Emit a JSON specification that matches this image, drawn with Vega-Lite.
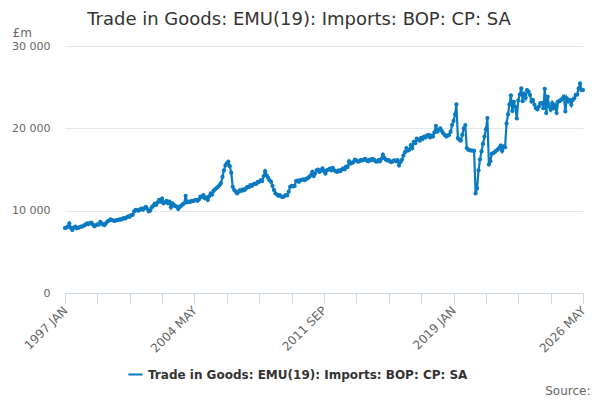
{
"$schema":"https://vega.github.io/schema/vega-lite/v6.json",
"width":518,"height":247,
"autosize":{"type":"none"},
"padding":{"left":65,"top":46,"right":17,"bottom":107},
"background":"#ffffff",
"title":{"text":"Trade in Goods: EMU(19): Imports: BOP: CP: SA","anchor":"middle","dx":-25,"offset":-3,"font":"DejaVu Sans","fontSize":18,"fontWeight":"normal","color":"#333333"},
"config":{"view":{"stroke":null},"font":"DejaVu Sans"},
"data":{"values":[
{"d":"1997-01-01","v":7900},{"d":"1997-02-01","v":7950},{"d":"1997-03-01","v":8050},{"d":"1997-04-01","v":8450},{"d":"1997-05-01","v":7900},{"d":"1997-06-01","v":7650},{"d":"1997-07-01","v":7950},{"d":"1997-08-01","v":8050},{"d":"1997-09-01","v":7850},{"d":"1997-10-01","v":7900},{"d":"1997-11-01","v":8000},{"d":"1997-12-01","v":8050},
{"d":"1998-01-01","v":8100},{"d":"1998-02-01","v":8200},{"d":"1998-03-01","v":8300},{"d":"1998-04-01","v":8450},{"d":"1998-05-01","v":8350},{"d":"1998-06-01","v":8500},{"d":"1998-07-01","v":8550},{"d":"1998-08-01","v":8300},{"d":"1998-09-01","v":8100},{"d":"1998-10-01","v":8200},{"d":"1998-11-01","v":8350},{"d":"1998-12-01","v":8300},
{"d":"1999-01-01","v":8650},{"d":"1999-02-01","v":8450},{"d":"1999-03-01","v":8300},{"d":"1999-04-01","v":8250},{"d":"1999-05-01","v":8500},{"d":"1999-06-01","v":8700},{"d":"1999-07-01","v":8800},{"d":"1999-08-01","v":8950},{"d":"1999-09-01","v":8850},{"d":"1999-10-01","v":8800},{"d":"1999-11-01","v":8750},{"d":"1999-12-01","v":8850},
{"d":"2000-01-01","v":8850},{"d":"2000-02-01","v":8950},{"d":"2000-03-01","v":8900},{"d":"2000-04-01","v":9000},{"d":"2000-05-01","v":9100},{"d":"2000-06-01","v":9050},{"d":"2000-07-01","v":9200},{"d":"2000-08-01","v":9300},{"d":"2000-09-01","v":9250},{"d":"2000-10-01","v":9450},{"d":"2000-11-01","v":9500},{"d":"2000-12-01","v":9900},
{"d":"2001-01-01","v":10100},{"d":"2001-02-01","v":10050},{"d":"2001-03-01","v":10000},{"d":"2001-04-01","v":10150},{"d":"2001-05-01","v":10250},{"d":"2001-06-01","v":10100},{"d":"2001-07-01","v":10300},{"d":"2001-08-01","v":10450},{"d":"2001-09-01","v":10200},{"d":"2001-10-01","v":9900},{"d":"2001-11-01","v":10050},{"d":"2001-12-01","v":10400},
{"d":"2002-01-01","v":10600},{"d":"2002-02-01","v":10850},{"d":"2002-03-01","v":10700},{"d":"2002-04-01","v":11000},{"d":"2002-05-01","v":11300},{"d":"2002-06-01","v":11100},{"d":"2002-07-01","v":11450},{"d":"2002-08-01","v":10900},{"d":"2002-09-01","v":11000},{"d":"2002-10-01","v":11200},{"d":"2002-11-01","v":10900},{"d":"2002-12-01","v":11100},
{"d":"2003-01-01","v":10400},{"d":"2003-02-01","v":10900},{"d":"2003-03-01","v":10700},{"d":"2003-04-01","v":10550},{"d":"2003-05-01","v":10500},{"d":"2003-06-01","v":10200},{"d":"2003-07-01","v":10450},{"d":"2003-08-01","v":10600},{"d":"2003-09-01","v":10750},{"d":"2003-10-01","v":10900},{"d":"2003-11-01","v":11800},{"d":"2003-12-01","v":11000},
{"d":"2004-01-01","v":11100},{"d":"2004-02-01","v":11050},{"d":"2004-03-01","v":11200},{"d":"2004-04-01","v":11150},{"d":"2004-05-01","v":11250},{"d":"2004-06-01","v":11300},{"d":"2004-07-01","v":11200},{"d":"2004-08-01","v":11350},{"d":"2004-09-01","v":11700},{"d":"2004-10-01","v":11650},{"d":"2004-11-01","v":11900},{"d":"2004-12-01","v":11500},
{"d":"2005-01-01","v":11600},{"d":"2005-02-01","v":11300},{"d":"2005-03-01","v":11750},{"d":"2005-04-01","v":12100},{"d":"2005-05-01","v":11950},{"d":"2005-06-01","v":12400},{"d":"2005-07-01","v":12600},{"d":"2005-08-01","v":12750},{"d":"2005-09-01","v":12900},{"d":"2005-10-01","v":13100},{"d":"2005-11-01","v":13350},{"d":"2005-12-01","v":14100},
{"d":"2006-01-01","v":14900},{"d":"2006-02-01","v":15500},{"d":"2006-03-01","v":15750},{"d":"2006-04-01","v":15950},{"d":"2006-05-01","v":15400},{"d":"2006-06-01","v":14600},{"d":"2006-07-01","v":12900},{"d":"2006-08-01","v":12500},{"d":"2006-09-01","v":12300},{"d":"2006-10-01","v":12100},{"d":"2006-11-01","v":12300},{"d":"2006-12-01","v":12500},
{"d":"2007-01-01","v":12400},{"d":"2007-02-01","v":12600},{"d":"2007-03-01","v":12500},{"d":"2007-04-01","v":12700},{"d":"2007-05-01","v":12900},{"d":"2007-06-01","v":12850},{"d":"2007-07-01","v":13100},{"d":"2007-08-01","v":13000},{"d":"2007-09-01","v":13200},{"d":"2007-10-01","v":13300},{"d":"2007-11-01","v":13250},{"d":"2007-12-01","v":13500},
{"d":"2008-01-01","v":13500},{"d":"2008-02-01","v":13700},{"d":"2008-03-01","v":13600},{"d":"2008-04-01","v":14200},{"d":"2008-05-01","v":14800},{"d":"2008-06-01","v":14300},{"d":"2008-07-01","v":14000},{"d":"2008-08-01","v":13700},{"d":"2008-09-01","v":13500},{"d":"2008-10-01","v":13000},{"d":"2008-11-01","v":12500},{"d":"2008-12-01","v":12100},
{"d":"2009-01-01","v":11950},{"d":"2009-02-01","v":11800},{"d":"2009-03-01","v":11900},{"d":"2009-04-01","v":11700},{"d":"2009-05-01","v":11650},{"d":"2009-06-01","v":11750},{"d":"2009-07-01","v":11900},{"d":"2009-08-01","v":11850},{"d":"2009-09-01","v":12300},{"d":"2009-10-01","v":12900},{"d":"2009-11-01","v":13000},{"d":"2009-12-01","v":12950},
{"d":"2010-01-01","v":13000},{"d":"2010-02-01","v":13600},{"d":"2010-03-01","v":13650},{"d":"2010-04-01","v":13500},{"d":"2010-05-01","v":13700},{"d":"2010-06-01","v":13750},{"d":"2010-07-01","v":13800},{"d":"2010-08-01","v":13700},{"d":"2010-09-01","v":13850},{"d":"2010-10-01","v":13950},{"d":"2010-11-01","v":14100},{"d":"2010-12-01","v":14300},
{"d":"2011-01-01","v":14700},{"d":"2011-02-01","v":14200},{"d":"2011-03-01","v":14500},{"d":"2011-04-01","v":14900},{"d":"2011-05-01","v":15000},{"d":"2011-06-01","v":14700},{"d":"2011-07-01","v":14900},{"d":"2011-08-01","v":15150},{"d":"2011-09-01","v":14800},{"d":"2011-10-01","v":14500},{"d":"2011-11-01","v":14900},{"d":"2011-12-01","v":15000},
{"d":"2012-01-01","v":15100},{"d":"2012-02-01","v":14900},{"d":"2012-03-01","v":15200},{"d":"2012-04-01","v":14900},{"d":"2012-05-01","v":14800},{"d":"2012-06-01","v":14700},{"d":"2012-07-01","v":14900},{"d":"2012-08-01","v":14800},{"d":"2012-09-01","v":15000},{"d":"2012-10-01","v":15150},{"d":"2012-11-01","v":15000},{"d":"2012-12-01","v":15350},
{"d":"2013-01-01","v":15300},{"d":"2013-02-01","v":16000},{"d":"2013-03-01","v":15700},{"d":"2013-04-01","v":15800},{"d":"2013-05-01","v":15900},{"d":"2013-06-01","v":16200},{"d":"2013-07-01","v":16100},{"d":"2013-08-01","v":15950},{"d":"2013-09-01","v":16000},{"d":"2013-10-01","v":16150},{"d":"2013-11-01","v":16100},{"d":"2013-12-01","v":16200},
{"d":"2014-01-01","v":16300},{"d":"2014-02-01","v":16100},{"d":"2014-03-01","v":16000},{"d":"2014-04-01","v":16200},{"d":"2014-05-01","v":16100},{"d":"2014-06-01","v":16300},{"d":"2014-07-01","v":16200},{"d":"2014-08-01","v":16000},{"d":"2014-09-01","v":15950},{"d":"2014-10-01","v":16150},{"d":"2014-11-01","v":16000},{"d":"2014-12-01","v":16300},
{"d":"2015-01-01","v":16800},{"d":"2015-02-01","v":16400},{"d":"2015-03-01","v":16200},{"d":"2015-04-01","v":16100},{"d":"2015-05-01","v":16150},{"d":"2015-06-01","v":15950},{"d":"2015-07-01","v":15900},{"d":"2015-08-01","v":16050},{"d":"2015-09-01","v":16100},{"d":"2015-10-01","v":16000},{"d":"2015-11-01","v":16150},{"d":"2015-12-01","v":15500},
{"d":"2016-01-01","v":15900},{"d":"2016-02-01","v":16200},{"d":"2016-03-01","v":16700},{"d":"2016-04-01","v":17100},{"d":"2016-05-01","v":17600},{"d":"2016-06-01","v":17300},{"d":"2016-07-01","v":17400},{"d":"2016-08-01","v":17950},{"d":"2016-09-01","v":17600},{"d":"2016-10-01","v":18350},{"d":"2016-11-01","v":18200},{"d":"2016-12-01","v":18750},
{"d":"2017-01-01","v":18600},{"d":"2017-02-01","v":18500},{"d":"2017-03-01","v":18850},{"d":"2017-04-01","v":18700},{"d":"2017-05-01","v":19000},{"d":"2017-06-01","v":18900},{"d":"2017-07-01","v":19100},{"d":"2017-08-01","v":19200},{"d":"2017-09-01","v":18900},{"d":"2017-10-01","v":19100},{"d":"2017-11-01","v":19000},{"d":"2017-12-01","v":19500},
{"d":"2018-01-01","v":20300},{"d":"2018-02-01","v":19600},{"d":"2018-03-01","v":19800},{"d":"2018-04-01","v":20000},{"d":"2018-05-01","v":19700},{"d":"2018-06-01","v":19400},{"d":"2018-07-01","v":19200},{"d":"2018-08-01","v":19000},{"d":"2018-09-01","v":19100},{"d":"2018-10-01","v":19200},{"d":"2018-11-01","v":19600},{"d":"2018-12-01","v":20400},
{"d":"2019-01-01","v":20900},{"d":"2019-02-01","v":21700},{"d":"2019-03-01","v":22900},{"d":"2019-04-01","v":18800},{"d":"2019-05-01","v":18600},{"d":"2019-06-01","v":18500},{"d":"2019-07-01","v":19200},{"d":"2019-08-01","v":20000},{"d":"2019-09-01","v":20400},{"d":"2019-10-01","v":17600},{"d":"2019-11-01","v":17400},{"d":"2019-12-01","v":17350},
{"d":"2020-01-01","v":17300},{"d":"2020-02-01","v":17300},{"d":"2020-03-01","v":17250},{"d":"2020-04-01","v":12100},{"d":"2020-05-01","v":12700},{"d":"2020-06-01","v":14900},{"d":"2020-07-01","v":16200},{"d":"2020-08-01","v":17200},{"d":"2020-09-01","v":18100},{"d":"2020-10-01","v":19000},{"d":"2020-11-01","v":19900},{"d":"2020-12-01","v":21250},
{"d":"2021-01-01","v":15600},{"d":"2021-02-01","v":16000},{"d":"2021-03-01","v":16900},{"d":"2021-04-01","v":17000},{"d":"2021-05-01","v":17100},{"d":"2021-06-01","v":17300},{"d":"2021-07-01","v":17400},{"d":"2021-08-01","v":17600},{"d":"2021-09-01","v":17900},{"d":"2021-10-01","v":17250},{"d":"2021-11-01","v":17800},{"d":"2021-12-01","v":17700},
{"d":"2022-01-01","v":20600},{"d":"2022-02-01","v":21700},{"d":"2022-03-01","v":22900},{"d":"2022-04-01","v":24000},{"d":"2022-05-01","v":22100},{"d":"2022-06-01","v":23200},{"d":"2022-07-01","v":22600},{"d":"2022-08-01","v":21200},{"d":"2022-09-01","v":23400},{"d":"2022-10-01","v":24100},{"d":"2022-11-01","v":24850},{"d":"2022-12-01","v":23300},
{"d":"2023-01-01","v":24200},{"d":"2023-02-01","v":23700},{"d":"2023-03-01","v":24650},{"d":"2023-04-01","v":24450},{"d":"2023-05-01","v":24050},{"d":"2023-06-01","v":23250},{"d":"2023-07-01","v":23450},{"d":"2023-08-01","v":22850},{"d":"2023-09-01","v":22450},{"d":"2023-10-01","v":22300},{"d":"2023-11-01","v":22650},{"d":"2023-12-01","v":23050},
{"d":"2024-01-01","v":23050},{"d":"2024-02-01","v":22450},{"d":"2024-03-01","v":24800},{"d":"2024-04-01","v":21850},{"d":"2024-05-01","v":23850},{"d":"2024-06-01","v":22650},{"d":"2024-07-01","v":22250},{"d":"2024-08-01","v":23050},{"d":"2024-09-01","v":22450},{"d":"2024-10-01","v":22850},{"d":"2024-11-01","v":21850},{"d":"2024-12-01","v":23250},
{"d":"2025-01-01","v":23300},{"d":"2025-02-01","v":23450},{"d":"2025-03-01","v":23650},{"d":"2025-04-01","v":23850},{"d":"2025-05-01","v":22050},{"d":"2025-06-01","v":23650},{"d":"2025-07-01","v":23250},{"d":"2025-08-01","v":23450},{"d":"2025-09-01","v":22850},{"d":"2025-10-01","v":23450},{"d":"2025-11-01","v":23650},{"d":"2025-12-01","v":24050},
{"d":"2026-01-01","v":24100},{"d":"2026-02-01","v":24850},{"d":"2026-03-01","v":25450},{"d":"2026-04-01","v":24650},{"d":"2026-05-01","v":24650}
]},
"mark":{"type":"line","strokeWidth":2.2,"point":{"filled":true,"size":18}},
"encoding":{
"x":{"field":"d","type":"temporal",
"scale":{"type":"utc","domain":[{"year":1997,"month":1,"date":1,"utc":true},{"year":2026,"month":5,"date":1,"utc":true}],"nice":false},
"axis":{"values":[{"year":1997,"month":1,"utc":true},{"year":1998,"month":11,"utc":true},{"year":2000,"month":9,"utc":true},{"year":2002,"month":7,"utc":true},{"year":2004,"month":5,"utc":true},{"year":2006,"month":3,"utc":true},{"year":2008,"month":1,"utc":true},{"year":2009,"month":11,"utc":true},{"year":2011,"month":9,"utc":true},{"year":2013,"month":7,"utc":true},{"year":2015,"month":5,"utc":true},{"year":2017,"month":3,"utc":true},{"year":2019,"month":1,"utc":true},{"year":2020,"month":11,"utc":true},{"year":2022,"month":9,"utc":true},{"year":2024,"month":7,"utc":true},{"year":2026,"month":5,"utc":true}],
"labelExpr":"indexof(['1997-0','2004-4','2011-8','2019-0','2026-4'], utcyear(datum.value)+'-'+utcmonth(datum.value)) >= 0 ? upper(utcFormat(datum.value, '%Y %b')) : ''",
"labelAngle":-45,"labelAlign":"right","labelBaseline":"middle","labelPadding":5,"labelFontSize":12,"labelColor":"#666666","labelFont":"DejaVu Sans","labelOverlap":false,"labelBound":false,"labelFlush":false,
"grid":false,"domainColor":"#ccd6eb","tickColor":"#ccd6eb","tickSize":10,
"title":"Source:","titleAnchor":"end","titleAlign":"right","titleX":525,"titleY":101,"titleFontSize":12,"titleFontWeight":"normal","titleColor":"#666666","titleFont":"DejaVu Sans","titleBaseline":"alphabetic"}},
"y":{"field":"v","type":"quantitative","scale":{"domain":[0,30000],"nice":false,"zero":true},
"axis":{"values":[0,10000,20000,30000],"labelExpr":"replace(format(datum.value, ','), ',', ' ')","domain":false,"ticks":false,"grid":true,"gridColor":"#e6e6e6","labelPadding":15,"labelFontSize":11,"labelColor":"#666666","labelFont":"DejaVu Sans",
"title":"£m","titleAngle":0,"titleAlign":"left","titleBaseline":"alphabetic","titleX":-53,"titleY":-10,"titleFontSize":12,"titleFontWeight":"normal","titleColor":"#666666","titleFont":"DejaVu Sans"}},
"color":{"datum":"Trade in Goods: EMU(19): Imports: BOP: CP: SA","type":"nominal","scale":{"range":["#0b7bc1"]},
"legend":{"title":null,"orient":"none","legendX":62,"legendY":320,"direction":"horizontal","symbolType":"stroke","symbolStrokeWidth":2,"symbolSize":200,"labelFontSize":12,"labelFontWeight":"bold","labelColor":"#333333","labelFont":"DejaVu Sans","labelLimit":0}}
}
}
